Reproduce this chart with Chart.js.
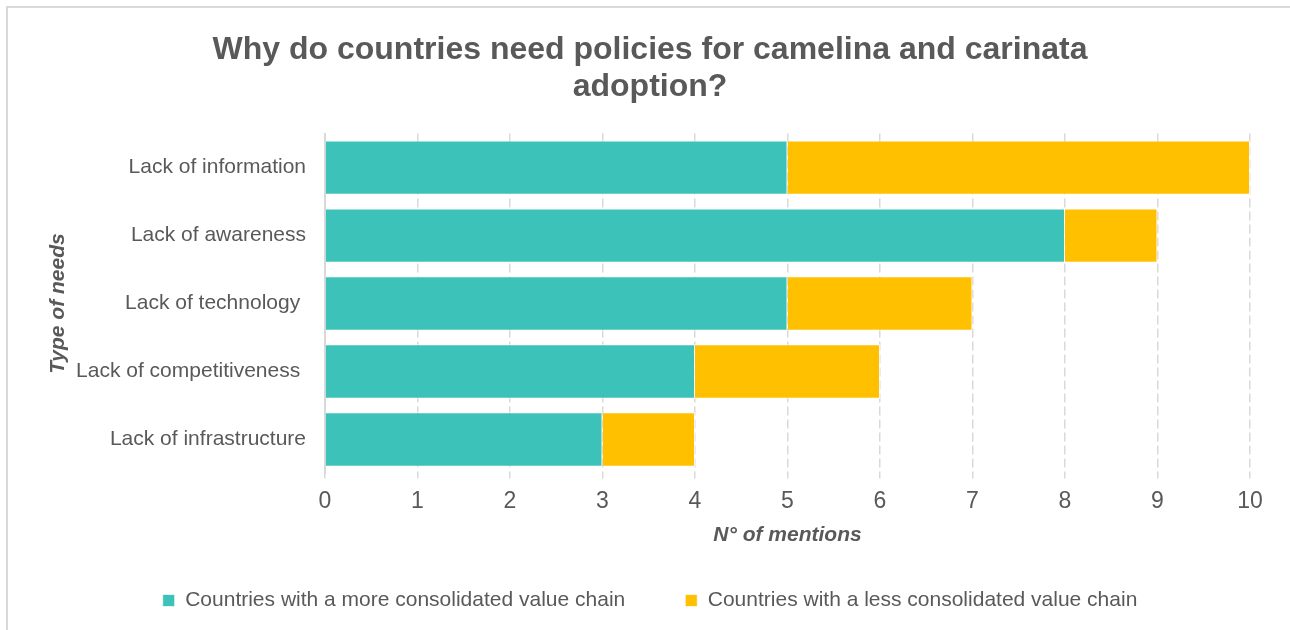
<!DOCTYPE html>
<html>
<head>
<meta charset="utf-8">
<script src="https://cdn.jsdelivr.net/npm/chart.js@4.4.1/dist/chart.umd.min.js"></script>
<style>
  body { margin: 0; background: #fff; }
  .wrap { position: relative; width: 1290px; height: 630px; overflow: hidden; }
  .frame { position: absolute; left: 6px; top: 6px; width: 1300px; height: 640px; border: 2px solid #d9d9d9; box-sizing: border-box; pointer-events: none; }
  canvas { position: absolute; left: 0; top: 0; }
</style>
</head>
<body>
<div class="wrap">
  <canvas id="needsChart" width="1290" height="630"></canvas>
  <div class="frame"></div>
</div>
<script>
const needs = ['Lack of information', 'Lack of awareness', 'Lack of technology ', 'Lack of competitiveness ', 'Lack of infrastructure'];
const moreConsolidated = [5, 8, 5, 4, 3];
const lessConsolidated = [5, 1, 2, 2, 1];
const xTicks = [0, 1, 2, 3, 4, 5, 6, 7, 8, 9, 10];

const grey = '#595959';
const font = 'Liberation Sans, Arial, sans-serif';

const ctx = document.getElementById('needsChart');

new Chart(ctx, {
    type: 'bar',
    data: {
        labels: needs,
        datasets: [{
            label: 'Countries with a more consolidated value chain',
            data: moreConsolidated,
            backgroundColor: '#3cc2b8',
            borderColor: 'rgba(255,255,255,0.7)',
            borderWidth: 1
        },
        {
            label: 'Countries with a less consolidated value chain',
            data: lessConsolidated,
            backgroundColor: '#ffc000',
            borderColor: 'rgba(255,255,255,0.7)',
            borderWidth: 1
        }]
    },
    options: {
        indexAxis: 'y',
        responsive: false,
        animation: false,
        barPercentage: 0.8,
        categoryPercentage: 1,
        layout: {
            padding: { left: 50, right: 40, top: 10, bottom: 9 }
        },
        scales: {
            x: {
                stacked: true,
                min: 0,
                max: 10,
                afterBuildTicks: scale => { scale.ticks = xTicks.map(v => ({ value: v })); },
                afterFit: scale => { scale.height = 56.5; },
                grid: {
                    color: '#d9d9d9',
                    lineWidth: 1.5,
                    tickLength: 5,
                    drawTicks: true
                },
                border: { display: false, dash: [9, 4] },
                ticks: {
                    color: grey,
                    padding: 9,
                    font: { family: font, size: 23 }
                },
                title: {
                    display: true,
                    text: 'N° of mentions',
                    color: grey,
                    padding: { top: 0, bottom: -18 },
                    font: { family: font, size: 21, weight: 'bold', style: 'italic' }
                }
            },
            y: {
                stacked: true,
                afterFit: scale => { scale.width = 275; },
                grid: { display: false },
                border: { display: true, color: '#d9d9d9', width: 2 },
                ticks: {
                    color: grey,
                    padding: 11,
                    font: { family: font, size: 21 }
                },
                title: {
                    display: true,
                    text: 'Type of needs',
                    color: grey,
                    padding: { top: -4, bottom: 0 },
                    font: { family: font, size: 21, weight: 'bold', style: 'italic' }
                }
            }
        },
        plugins: {
            title: {
                display: true,
                text: ['Why do countries need policies for camelina and carinata', 'adoption?'],
                color: grey,
                padding: { top: 22, bottom: 28 },
                font: { family: font, size: 32, weight: 'bold', lineHeight: 1.15 }
            },
            legend: {
                position: 'bottom',
                labels: {
                    color: grey,
                    boxWidth: 12,
                    boxHeight: 12,
                    padding: 60,
                    font: { family: font, size: 21 }
                }
            },
            tooltip: { enabled: false }
        }
    }
});
</script>
</body>
</html>
